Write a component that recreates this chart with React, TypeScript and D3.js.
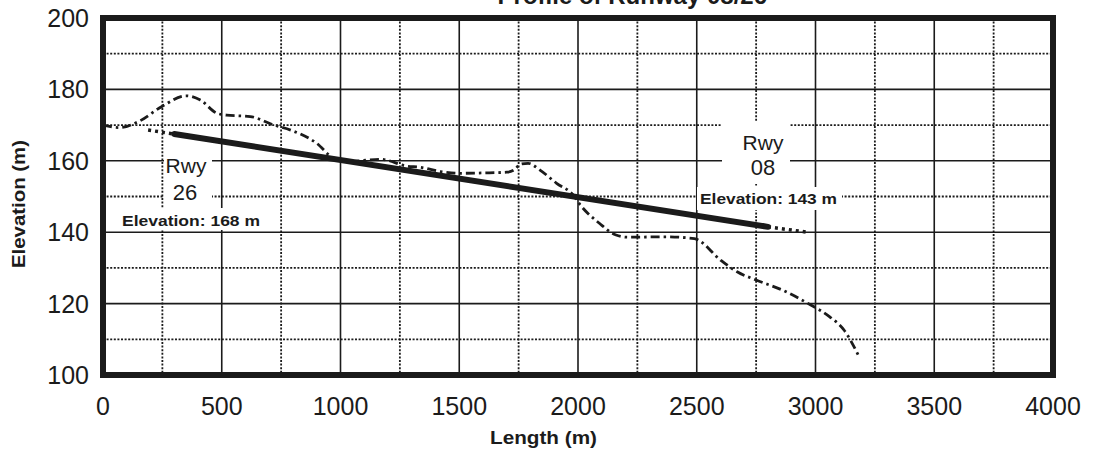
import React from "react";
import * as d3 from "d3";

const xTicks = [0, 500, 1000, 1500, 2000, 2500, 3000, 3500, 4000];
const yTicks = [100, 120, 140, 160, 180, 200];
const xMinorGrid = [250, 750, 1250, 1750, 2250, 2750, 3250, 3750];
const yMinorGrid = [110, 130, 150, 170, 190];

const terrainLength = [0, 70, 150, 250, 350, 410, 480, 520, 620, 720, 790, 900, 970, 1040, 1110, 1170, 1280, 1335, 1420, 1500, 1600, 1700, 1730, 1760, 1790, 1840, 1910, 1980, 2010, 2090, 2160, 2210, 2370, 2490, 2600, 2670, 2750, 2860, 2980, 3060, 3120, 3180];
const terrainElev = [170, 169.3, 171, 175.3, 178.2, 177, 173.3, 172.8, 172.4, 170, 168.6, 164.9, 160.8, 159.8, 160.2, 160.4, 158.5, 158.2, 157, 156.5, 156.6, 156.8, 157.4, 159.1, 159.3, 157.4, 153.7, 150.4, 147.6, 142.5, 139.2, 138.6, 138.7, 138.2, 132.2, 128.9, 126.6, 123.8, 119.6, 116.3, 112.6, 105.6];

const runwayLength = [300, 2800];
const runwayElev = [167.5, 141.5];
const ext26Length = [190, 300];
const ext26Elev = [168.6, 167.5];
const ext08Length = [2800, 2965];
const ext08Elev = [141.5, 140];

const W = 1098, H = 455;
const left = 103, right = 1053, top = 18, bottom = 375;
const ink = "#1b1b1b";

export default function App() {
  const x = d3.scaleLinear().domain([0, 4000]).range([left, right]);
  const y = d3.scaleLinear().domain([100, 200]).range([bottom, top]);

  const line = d3.line<[number, number]>().x(d => x(d[0])).y(d => y(d[1]));
  const smooth = d3.line<[number, number]>().x(d => x(d[0])).y(d => y(d[1])).curve(d3.curveMonotoneX);

  const terrain = terrainLength.map((l, i) => [l, terrainElev[i]] as [number, number]);
  const runway = runwayLength.map((l, i) => [l, runwayElev[i]] as [number, number]);
  const e26 = ext26Length.map((l, i) => [l, ext26Elev[i]] as [number, number]);
  const e08 = ext08Length.map((l, i) => [l, ext08Elev[i]] as [number, number]);

  const font = "'Liberation Sans', Arial, sans-serif";

  return (
    <svg width={W} height={H} style={{ position: "absolute", left: 0, top: 0, background: "#fff" }}>
      <rect x={0} y={0} width={W} height={H} fill="#fff" />
      <text x={767} y={4} textAnchor="end" fontFamily={font} fontWeight="bold" fontSize={24} fill={ink}>Profile of Runway 08/26</text>

      {/* minor grid */}
      {xMinorGrid.map(v => (
        <line key={"xm" + v} x1={x(v)} x2={x(v)} y1={top} y2={bottom} stroke={ink} strokeWidth={1.8} strokeDasharray="2,1.6" />
      ))}
      {yMinorGrid.map(v => (
        <line key={"ym" + v} x1={left} x2={right} y1={y(v)} y2={y(v)} stroke={ink} strokeWidth={1.8} strokeDasharray="2,1.6" />
      ))}
      {/* major grid */}
      {xTicks.slice(1, -1).map(v => (
        <line key={"xM" + v} x1={x(v)} x2={x(v)} y1={top} y2={bottom} stroke={ink} strokeWidth={1.6} />
      ))}
      {yTicks.slice(1, -1).map(v => (
        <line key={"yM" + v} x1={left} x2={right} y1={y(v)} y2={y(v)} stroke={ink} strokeWidth={1.6} />
      ))}

      {/* label backgrounds */}
      <rect x={164} y={150} width={48} height={56} fill="#fff" />
      <rect x={118} y={208} width={147} height={22} fill="#fff" />
      <rect x={722} y={122} width={68} height={62} fill="#fff" />
      <rect x={697} y={187} width={145} height={23} fill="#fff" />

      {/* terrain */}
      <path d={smooth(terrain) || ""} fill="none" stroke={ink} strokeWidth={2.8} strokeDasharray="9,4,2.5,4" />
      {/* runway */}
      <path d={line(e26) || ""} fill="none" stroke={ink} strokeWidth={3.5} strokeDasharray="3,4" />
      <path d={line(e08) || ""} fill="none" stroke={ink} strokeWidth={3.5} strokeDasharray="3,4" />
      <path d={line(runway) || ""} fill="none" stroke={ink} strokeWidth={6} strokeLinecap="round" />

      {/* labels */}
      <text x={186} y={173} textAnchor="middle" fontFamily={font} fontSize={21} fill={ink}>Rwy</text>
      <text x={185} y={200} textAnchor="middle" fontFamily={font} fontSize={22} fill={ink}>26</text>
      <text x={122} y={226} fontFamily={font} fontWeight="bold" fontSize={15} fill={ink} textLength={138} lengthAdjust="spacingAndGlyphs">Elevation: 168 m</text>
      <text x={763} y={150} textAnchor="middle" fontFamily={font} fontSize={21} fill={ink}>Rwy</text>
      <text x={763} y={175} textAnchor="middle" fontFamily={font} fontSize={22} fill={ink}>08</text>
      <text x={700} y={204} fontFamily={font} fontWeight="bold" fontSize={15} fill={ink} textLength={137} lengthAdjust="spacingAndGlyphs">Elevation: 143 m</text>

      {/* frame */}
      <rect x={left} y={top} width={right - left} height={bottom - top} fill="none" stroke={ink} strokeWidth={6} />

      {/* axes labels */}
      {yTicks.map(v => (
        <text key={"yt" + v} x={89} y={y(v) + 9} textAnchor="end" fontFamily={font} fontSize={25} fill={ink}>{v}</text>
      ))}
      {xTicks.map(v => (
        <text key={"xt" + v} x={x(v)} y={415} textAnchor="middle" fontFamily={font} fontSize={25} fill={ink}>{v}</text>
      ))}
      <text x={490} y={444} fontFamily={font} fontWeight="bold" fontSize={19} fill={ink} textLength={107} lengthAdjust="spacingAndGlyphs">Length (m)</text>
      <text transform={`translate(25,204) rotate(-90)`} textAnchor="middle" fontFamily={font} fontWeight="bold" fontSize={18} fill={ink} textLength={128} lengthAdjust="spacingAndGlyphs">Elevation (m)</text>
    </svg>
  );
}
